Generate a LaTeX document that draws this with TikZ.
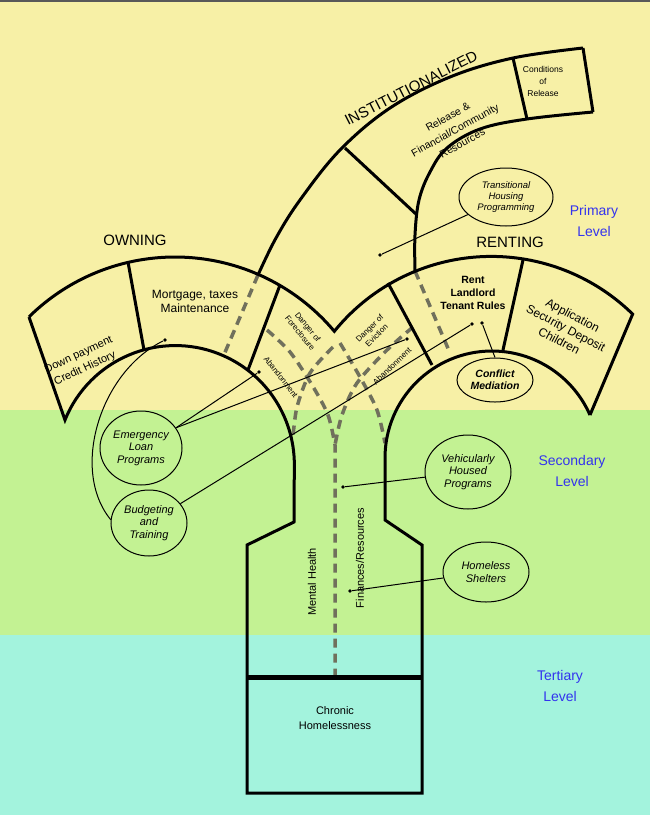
\documentclass[tikz,border=0pt]{standalone}
\usepackage{fontspec}
\setmainfont{Liberation Sans}
\usetikzlibrary{shapes.geometric,calc}
\definecolor{byel}{RGB}{247,240,166}
\definecolor{bgrn}{RGB}{195,242,147}
\definecolor{bcya}{RGB}{163,243,221}
\definecolor{dashc}{RGB}{112,112,92}
\definecolor{lvl}{RGB}{51,51,238}
\begin{document}
\begin{tikzpicture}[x=1pt,y=1pt,
  thick line/.style={line width=3pt,line join=miter},
  dashl/.style={line width=3.5pt,color=dashc,dash pattern=on 9pt off 6pt},
  thin/.style={line width=1pt},
  oval/.style={ellipse,draw,line width=1pt,inner sep=0pt,align=center,font=\itshape\fontsize{11}{12.5}\selectfont},
  dot/.style={circle,fill,inner sep=1.4pt},
  lab/.style={align=center,font=\fontsize{11}{15}\selectfont},
  small/.style={align=center,font=\fontsize{8}{10}\selectfont},
  lvlt/.style={align=center,text=lvl,font=\fontsize{14}{21}\selectfont}]
\useasboundingbox (0,0) rectangle (650,-815);
\fill[byel] (0,0) rectangle (650,-410);
\fill[bgrn] (0,-410) rectangle (650,-635);
\fill[bcya] (0,-635) rectangle (650,-815);
\fill[black!65] (0,0) rectangle (650,-2);
\coordinate (CL) at (175,-465);
\coordinate (CR) at (492,-458);
% dashed paths
\draw[dashl] (258,-275) -- (223,-357);
\draw[dashl] (415,-271) -- (450,-353);
\draw[dashl] plot[smooth] coordinates {(267,-330) (290,-352) (312,-385) (328,-415) (335,-445)} -- (335,-677);
\draw[dashl] plot[smooth] coordinates {(413,-327) (387,-350) (357,-383) (342,-415) (335,-445)};
\draw[dashl] plot[smooth] coordinates {(333,-347) (310,-373) (297,-407) (293,-437)};
\draw[dashl] plot[smooth] coordinates {(340,-343) (360,-377) (377,-410) (385,-443)};
% owning and renting
\draw[thick line] ($(CL)+(134.6:208)$) arc[start angle=134.6,end angle=40,radius=208]
  arc[start angle=141,end angle=45.6,radius=202] -- (590,-415);
\draw[thick line] (29,-317) -- (65,-420) arc[start angle=158,end angle=0,radius=119]
  -- (294,-522) -- (247,-545) -- (247,-793) -- (422,-793) -- (422,-545) -- (385,-520) -- (385,-458)
  arc[start angle=180,end angle=23.7,radius=107];
\draw[thick line] (128,-262) -- (144,-350);
\draw[thick line] (280,-285) -- (248,-370);
\draw[thick line] (388,-283) -- (432,-365);
\draw[thick line] (523,-260) -- (503,-350);
\draw[line width=5pt] (247,-677) -- (422,-677);
% institutionalized
\draw[thick line] plot[smooth,tension=0.6] coordinates {(258,-275) (276,-238) (300,-200) (340,-150) (390,-108) (450,-77) (513,-58) (583,-48)};
\draw[thick line] plot[smooth,tension=0.6] coordinates {(415,-271) (415,-235) (419,-200) (430,-172) (447,-148) (480,-129) (527,-119) (593,-112)};
\draw[thick line] (345,-148) -- (417,-215);
\draw[thick line] (513,-58) -- (527,-119);
\draw[thick line] (583,-48) -- (593,-112);
% labels
\node[font=\fontsize{15}{16}\selectfont] at (135,-240) {OWNING};
\node[font=\fontsize{15}{16}\selectfont] at (510,-242) {RENTING};
\node[rotate=27,font=\fontsize{15}{16}\selectfont] at (411,-88) {INSTITUTIONALIZED};
\node[lab,rotate=29,font=\fontsize{10.5}{15}\selectfont] at (455,-130) {Release \&\\Financial/Community\\Resources};
\node[small,font=\fontsize{8.5}{12}\selectfont] at (543,-81) {Conditions\\of\\Release};
\node[lab,rotate=25] at (82,-362) {Down payment\\Credit History};
\node[lab,font=\fontsize{12}{14}\selectfont] at (195,-301) {Mortgage, taxes\\Maintenance};
\node[small,rotate=-51] at (304,-330) {Danger of\\Foreclosure};
\node[small,rotate=-52] at (281,-377) {Abandonment};
\node[small,rotate=45] at (373,-332) {Danger of\\Eviction};
\node[small,rotate=44] at (392,-366) {Abandonment};
\node[lab,font=\bfseries\fontsize{10.5}{13}\selectfont] at (473,-293) {Rent\\Landlord\\Tenant Rules};
\node[lab,rotate=-28,font=\fontsize{12}{14.5}\selectfont] at (566,-328) {Application\\Security Deposit\\Children};
\node[lab,rotate=90] at (312,-582) {Mental Health};
\node[lab,rotate=90] at (360,-558) {Finances/Resources};
\node[lab] at (335,-718) {Chronic\\Homelessness};
\node[lvlt] at (594,-221) {Primary\\Level};
\node[lvlt] at (572,-471) {Secondary\\Level};
\node[lvlt] at (560,-686) {Tertiary\\Level};
% ovals
\node[oval,minimum width=94pt,minimum height=58pt,font=\itshape\fontsize{9.5}{11}\selectfont] (th) at (506,-197) {Transitional\\Housing\\Programming};
\node[oval,minimum width=82pt,minimum height=74pt] (el) at (141,-448) {Emergency\\Loan\\Programs};
\node[oval,minimum width=76pt,minimum height=66pt] (bt) at (149,-523) {Budgeting\\and\\Training};
\node[oval,minimum width=76pt,minimum height=44pt,font=\bfseries\itshape\fontsize{10.5}{12}\selectfont] (cm) at (495,-380) {Conflict\\Mediation};
\node[oval,minimum width=86pt,minimum height=74pt] (vh) at (468,-472) {Vehicularly\\Housed\\Programs};
\node[oval,minimum width=86pt,minimum height=60pt] (hs) at (486,-572) {Homeless\\Shelters};
% dots and connectors
\node[dot] (d1) at (380,-255) {};
\node[dot] (d2) at (165,-340) {};
\node[dot] (d3) at (259,-372) {};
\node[dot] (d4) at (407,-339) {};
\node[dot] (d5) at (472,-324) {};
\node[dot] (d6) at (482,-323) {};
\node[dot] (d7) at (343,-487) {};
\node[dot] (d8) at (350,-591) {};
\draw[thin] (th) -- (d1);
\draw[thin] (el.30) -- (d3);
\draw[thin] (el.30) -- (d4);
\draw[thin] (bt) -- (d5);
\draw[thin] (cm.north) -- (d6);
\draw[thin] (vh) -- (d7);
\draw[thin] (hs) -- (d8);
\draw[thin] (d2) .. controls (100,-372) and (70,-470) .. (bt.175);
\end{tikzpicture}
\end{document}
